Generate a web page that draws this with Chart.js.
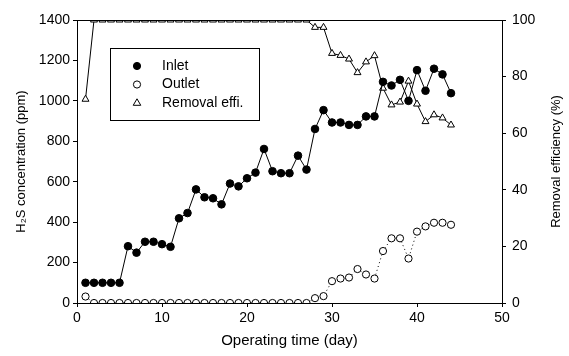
<!DOCTYPE html>
<html><head><meta charset="utf-8">
<script src="https://cdn.jsdelivr.net/npm/chart.js@4"></script>
<style>html,body{margin:0;padding:0;background:#fff}#wrap{width:569px;height:356px}</style>
</head><body><div id="wrap"><canvas id="c" width="569" height="356"></canvas></div>
<script>
const days = [1,2,3,4,5,6,7,8,9,10,11,12,13,14,15,16,17,18,19,20,21,22,23,24,25,26,27,28,29,30,31,32,33,34,35,36,37,38,39,40,41,42,43,44];
const inlet = [100,100,100,100,100,281,249,303,303,291,278,419,445,562,523,518,488,591,577,617,645,762,652,642,642,729,660,861,954,893,893,881,881,923,923,1094,1076,1104,1000,1152,1050,1159,1131,1038];
const outlet = [32,0,0,0,0,0,0,0,0,0,0,0,0,0,0,0,0,0,0,0,0,0,0,0,0,0,0,24,34,108,121,126,168,141,121,257,320,320,220,353,379,397,397,387];
const removal = [72,100,100,100,100,100,100,100,100,100,100,100,100,100,100,100,100,100,100,100,100,100,100,100,100,100,100,97.4,97.4,88.2,87.5,86.2,81.4,85.2,87.4,75.9,70,71,78.4,70.3,64.1,66.5,65.4,62.9];
const seriesLabels = ['Inlet','Outlet','Removal effi.'];
const xTicks = [0,10,20,30,40,50];
const rightTitle = 'Removal efficiency (%)';

const pts = arr => days.map((d,i)=>({x:d,y:arr[i]}));
const FONT = 'Liberation Sans, Arial, sans-serif';

const boxPlugin = {
  id:'box',
  afterDraw(chart){
    const {ctx, chartArea:a} = chart;
    ctx.save();
    ctx.strokeStyle='#000'; ctx.lineWidth=1;
    ctx.strokeRect(Math.round(a.left)+0.5, Math.round(a.top)+0.5, Math.round(a.right-a.left), Math.round(a.bottom-a.top));
    // right axis title, reading bottom to top
    ctx.save();
    ctx.translate(chart.width-13, (a.top+a.bottom)/2);
    ctx.rotate(-Math.PI/2);
    ctx.font='13px '+FONT; ctx.fillStyle='#000'; ctx.textAlign='center'; ctx.textBaseline='middle';
    ctx.fillText(rightTitle,0,0);
    ctx.restore();
    // legend
    const lx = a.left+33, ly = a.top+28, w=149, h=72;
    ctx.fillStyle='#fff'; ctx.fillRect(lx,ly,w,h);
    ctx.strokeRect(lx+0.5,ly+0.5,w,h);
    ctx.font = '14px '+FONT; ctx.textBaseline='middle'; ctx.textAlign='left';
    chart.data.datasets.forEach((ds,i)=>{
      const y = ly+18+i*18.5, x = lx+27;
      ctx.fillStyle = ds.pointBackgroundColor; ctx.strokeStyle='#000'; ctx.lineWidth=1;
      ctx.beginPath();
      if (ds.pointStyle==='triangle'){
        const r=4.2;
        ctx.moveTo(x, y-r); ctx.lineTo(x+r*0.9, y+r*0.55); ctx.lineTo(x-r*0.9, y+r*0.55); ctx.closePath();
      } else {
        ctx.arc(x,y,3.6,0,Math.PI*2);
      }
      ctx.fill(); ctx.stroke();
      ctx.fillStyle='#000';
      ctx.fillText(ds.label, lx+52, y);
    });
    ctx.restore();
  }
};

new Chart(document.getElementById('c'),{
  type:'line',
  data:{datasets:[
    {label:seriesLabels[0], data:pts(inlet), yAxisID:'y', borderColor:'#000', borderWidth:1, pointStyle:'circle', pointRadius:3.8, pointBackgroundColor:'#000', pointBorderColor:'#000', pointBorderWidth:1, tension:0, order:1},
    {label:seriesLabels[1], data:pts(outlet), yAxisID:'y', borderColor:'#000', borderWidth:1, borderDash:[1,3], pointStyle:'circle', pointRadius:3.6, pointBackgroundColor:'#fff', pointBorderColor:'#000', pointBorderWidth:1, tension:0, order:2},
    {label:seriesLabels[2], data:pts(removal), yAxisID:'y1', borderColor:'#000', borderWidth:1, pointStyle:'triangle', pointRadius:4, pointBackgroundColor:'#fff', pointBorderColor:'#000', pointBorderWidth:1, tension:0, order:3}
  ]},
  options:{
    responsive:false, animation:false, devicePixelRatio:1,
    layout:{padding:{top:20,left:0,right:0,bottom:0}},
    plugins:{legend:{display:false}, tooltip:{enabled:false}},
    scales:{
      x:{type:'linear', min:0, max:50, afterBuildTicks(s){s.ticks=xTicks.map(v=>({value:v}));},
        afterFit(s){s.height=53;},
        grid:{display:true, drawOnChartArea:false, tickLength:4, color:'#000'}, border:{color:'#000', width:1},
        ticks:{color:'#000', font:{family:FONT,size:14}, padding:3, maxRotation:0, callback:v=>String(v)},
        title:{display:true, text:'Operating time (day)', color:'#000', font:{family:FONT,size:15}, padding:{top:0,bottom:6}}},
      y:{type:'linear', position:'left', min:0, max:1400, ticks:{stepSize:200, color:'#000', font:{family:FONT,size:14}, padding:3, callback:v=>String(v)},
        afterFit(s){s.width=77;},
        grid:{drawOnChartArea:false, tickLength:4, color:'#000'}, border:{color:'#000', width:1},
        title:{display:true, text:'H₂S concentration (ppm)', color:'#000', font:{family:FONT,size:13}, padding:{top:14,bottom:0}}},
      y1:{type:'linear', position:'right', min:0, max:100, ticks:{stepSize:20, color:'#000', font:{family:FONT,size:14}, padding:6, callback:v=>String(v)},
        afterFit(s){s.width=67;},
        grid:{drawOnChartArea:false, tickLength:4, color:'#000'}, border:{color:'#000', width:1},
        title:{display:false}}
    }
  },
  plugins:[boxPlugin]
});
</script></body></html>
